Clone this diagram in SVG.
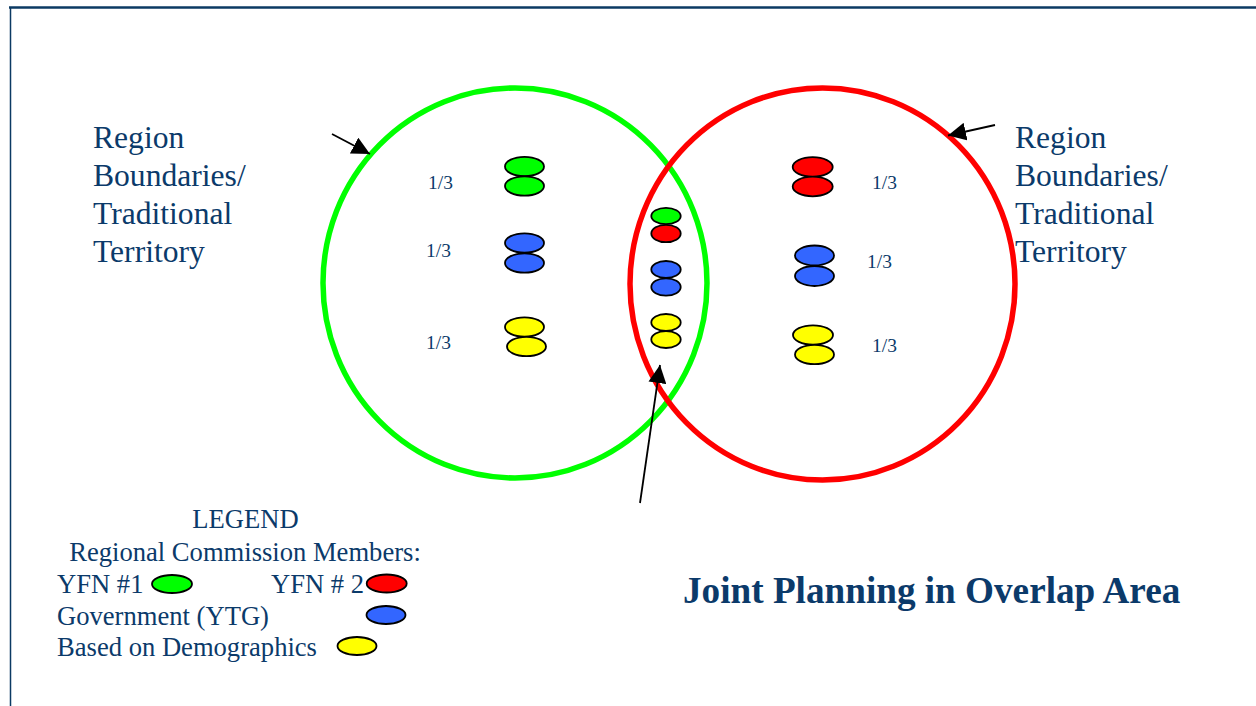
<svg xmlns="http://www.w3.org/2000/svg" width="1256" height="706" viewBox="0 0 1256 706">
  <defs>
    <marker id="ah" viewBox="0 0 10 10" refX="10" refY="5" markerWidth="18" markerHeight="18" markerUnits="userSpaceOnUse" orient="auto">
      <path d="M0,0 L10,5 L0,10 Z" fill="#000"/>
    </marker>
  </defs>
  <style>
    .t { font-family: "Liberation Serif", "Times New Roman", serif; fill: #0b3a6a; }
    .big { font-size: 31.6px; }
    .frac { font-size: 19.5px; }
    .leg { font-size: 26.6px; }
    .title { font-size: 37.2px; font-weight: bold; }
    .dot { stroke: #000; stroke-width: 1.8; }
    .g { fill: #00ff00; }
    .r { fill: #ff0000; }
    .b { fill: #3366ff; }
    .y { fill: #ffff00; }
    .arrow { stroke: #000; stroke-width: 1.8; fill: none; marker-end: url(#ah); }
  </style>
  <rect x="0" y="0" width="1256" height="706" fill="#fff"/>
  <!-- frame -->
  <g id="frame" fill="none" stroke="#0b3a63">
    <line x1="9" y1="7.5" x2="1256" y2="7.5" stroke-width="2.5"/>
    <line x1="10.5" y1="7" x2="10.5" y2="706" stroke-width="1.5"/>
  </g>

  <g id="region-green">
    <ellipse cx="515" cy="283" rx="192" ry="195" fill="none" stroke="#00ff00" stroke-width="5.5"/>
  </g>
  <g id="region-red">
    <ellipse cx="822.5" cy="284" rx="192.5" ry="196" fill="none" stroke="#ff0000" stroke-width="5.5"/>
  </g>

  <g id="left-members">
    <ellipse class="dot g" cx="524.5" cy="166.5" rx="19.5" ry="9.7"/>
    <ellipse class="dot g" cx="524.5" cy="186" rx="19.5" ry="9.7"/>
    <ellipse class="dot b" cx="524.5" cy="243" rx="19.5" ry="9.7"/>
    <ellipse class="dot b" cx="524.5" cy="263" rx="19.5" ry="9.7"/>
    <ellipse class="dot y" cx="524.5" cy="327" rx="19.5" ry="9.7"/>
    <ellipse class="dot y" cx="526.5" cy="346.5" rx="19.5" ry="9.7"/>
    <text class="t frac" x="428" y="189">1/3</text>
    <text class="t frac" x="426" y="257">1/3</text>
    <text class="t frac" x="426" y="349">1/3</text>
  </g>

  <g id="overlap-members">
    <ellipse class="dot g" cx="666" cy="216" rx="14.7" ry="8.2"/>
    <ellipse class="dot r" cx="666" cy="233.5" rx="14.7" ry="8.7"/>
    <ellipse class="dot b" cx="666" cy="269.5" rx="14.7" ry="8.5"/>
    <ellipse class="dot b" cx="666" cy="287" rx="14.7" ry="8.7"/>
    <ellipse class="dot y" cx="666" cy="322.5" rx="14.7" ry="8.5"/>
    <ellipse class="dot y" cx="666" cy="339.5" rx="14.7" ry="8.5"/>
  </g>

  <g id="right-members">
    <ellipse class="dot r" cx="812.7" cy="167" rx="20" ry="9.8"/>
    <ellipse class="dot r" cx="812.7" cy="186.5" rx="20" ry="9.8"/>
    <ellipse class="dot b" cx="814.5" cy="255.5" rx="19.5" ry="10"/>
    <ellipse class="dot b" cx="814.5" cy="276" rx="19.5" ry="10"/>
    <ellipse class="dot y" cx="813" cy="335" rx="20" ry="9.7"/>
    <ellipse class="dot y" cx="814.5" cy="354.5" rx="19.5" ry="9.7"/>
    <text class="t frac" x="872" y="189">1/3</text>
    <text class="t frac" x="867" y="268">1/3</text>
    <text class="t frac" x="872" y="352">1/3</text>
  </g>

  <g id="label-left">
    <text class="t big" x="93" y="148">Region</text>
    <text class="t big" x="93" y="186">Boundaries/</text>
    <text class="t big" x="93" y="224">Traditional</text>
    <text class="t big" x="93" y="262">Territory</text>
  </g>
  <g id="label-right">
    <text class="t big" x="1015" y="148">Region</text>
    <text class="t big" x="1015" y="186">Boundaries/</text>
    <text class="t big" x="1015" y="224">Traditional</text>
    <text class="t big" x="1015" y="262">Territory</text>
  </g>

  <g id="connectors">
    <line class="arrow" x1="332" y1="134" x2="370" y2="154"/>
    <line class="arrow" x1="995" y1="125" x2="948" y2="135.5"/>
    <line class="arrow" x1="640" y1="503" x2="660" y2="365"/>
  </g>

  <g id="legend">
    <text class="t leg" x="245.5" y="528" text-anchor="middle">LEGEND</text>
    <text class="t leg" x="245" y="561" text-anchor="middle">Regional Commission Members:</text>
    <text class="t leg" x="57" y="593">YFN #1</text>
    <ellipse class="dot g" cx="172" cy="584" rx="20" ry="9"/>
    <text class="t leg" x="271" y="593">YFN # 2</text>
    <ellipse class="dot r" cx="386.7" cy="583.5" rx="20" ry="9"/>
    <text class="t leg" x="57" y="625">Government (YTG)</text>
    <ellipse class="dot b" cx="386" cy="615" rx="19.5" ry="9"/>
    <text class="t leg" x="57" y="656">Based on Demographics</text>
    <ellipse class="dot y" cx="357" cy="646" rx="19.5" ry="9"/>
  </g>

  <g id="title">
    <text class="t title" x="683" y="603">Joint Planning in Overlap Area</text>
  </g>
</svg>
